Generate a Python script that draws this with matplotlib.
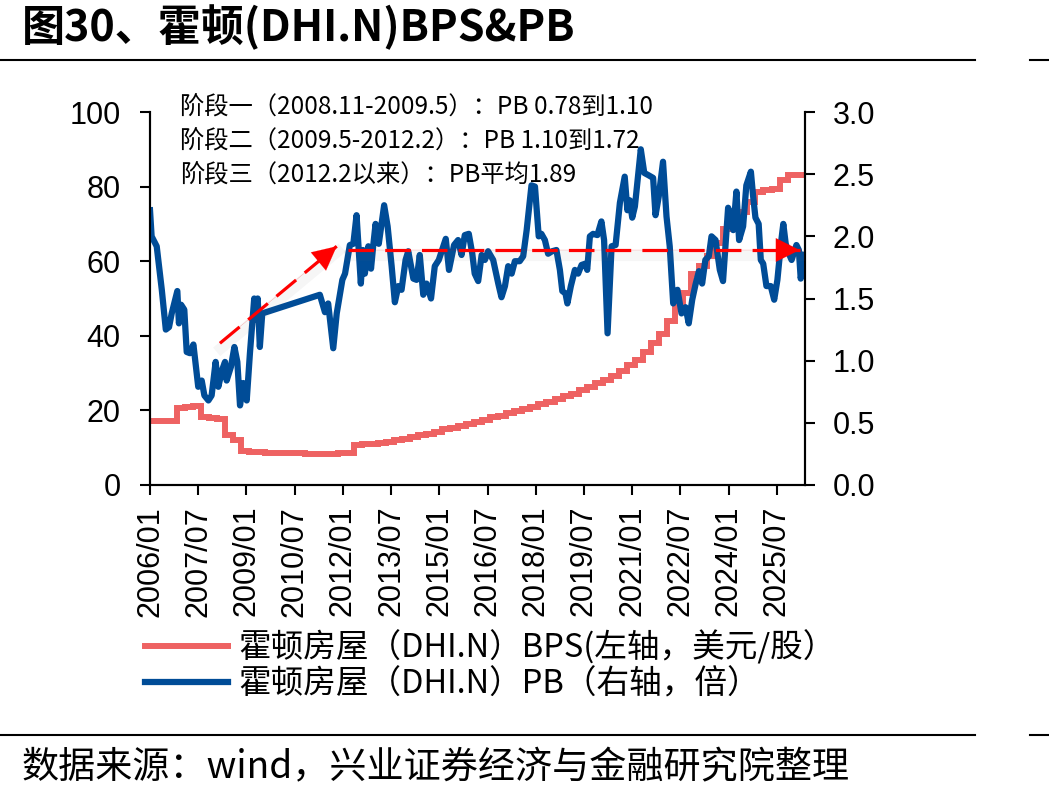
import numpy as np
import matplotlib.pyplot as plt
from matplotlib import transforms
from matplotlib.lines import Line2D

# ---- data (months counted from 2006/01) ----
# book value per share, updated quarterly (first value is 2005/11)
bps_start = -2
bps_values = [17.2, 17.2, 17.2, 17.2, 20.6, 20.9, 21.2, 18.2, 17.9, 17.8,
              13.4, 12.0, 9.2, 8.9, 8.8, 8.7, 8.6, 8.6, 8.5, 8.5,
              8.4, 8.4, 8.4, 8.4, 8.5, 8.6, 10.8, 11.0, 11.1, 11.2,
              11.6, 12.0, 12.4, 13.0, 13.3, 13.6, 14.2, 14.9, 15.4, 15.9,
              16.4, 17.0, 17.5, 18.1, 18.6, 19.2, 19.8, 20.4, 21.0, 21.6,
              22.3, 23.0, 23.8, 24.5, 25.4, 26.3, 27.3, 28.2, 29.3, 30.6,
              32.3, 33.6, 35.6, 38.0, 40.5, 44.0, 48.5, 51.6, 56.5, 58.8,
              61.5, 64.8, 68.5, 71.0, 73.2, 76.0, 78.6, 79.0, 79.3, 81.8,
              83.1, 83.1]
bps_end = 244.4

pb_month = [0.0, 0.6, 2.5, 4.4, 5.9, 7.1, 8.1, 10.2, 10.8, 11.6,
            12.8, 13.7, 14.9, 16.2, 18.0, 19.3, 20.3, 21.8, 23.0, 24.5,
            25.5, 27.0, 28.0, 28.6, 30.2, 31.5, 32.6, 33.6, 34.8, 36.1,
            37.3, 38.9, 39.6, 40.2, 41.0, 41.9, 63.4, 65.3, 66.5, 68.4,
            69.7, 71.8, 72.8, 74.6, 75.9, 77.1, 78.7, 79.5, 80.2, 81.5,
            82.5, 83.3, 84.2, 85.4, 87.4, 88.7, 90.2, 91.4, 92.7, 93.9,
            95.4, 96.4, 98.3, 99.5, 100.7, 102.0, 103.2, 104.9, 106.3, 107.8,
            110.4, 111.6, 113.5, 115.0, 116.3, 117.5, 119.0, 120.3, 121.2, 122.5,
            123.8, 125.0, 126.2, 128.1, 130.0, 131.2, 132.5, 133.7, 135.0, 136.2,
            138.0, 139.3, 140.6, 142.4, 143.7, 145.1, 146.1, 147.4, 148.6, 150.1,
            151.7, 153.0, 153.9, 155.1, 155.8, 157.1, 158.6, 159.8, 161.1, 162.5,
            163.2, 164.2, 165.4, 167.0, 168.5, 169.5, 170.8, 172.3, 173.8, 175.4,
            177.2, 178.2, 179.1, 180.0, 181.0, 183.2, 184.5, 186.2, 187.8, 188.7,
            189.9, 191.5, 192.8, 194.0, 195.3, 196.9, 198.4, 199.9, 201.1, 202.4,
            203.6, 204.9, 206.1, 207.3, 208.6, 209.6, 211.1, 212.7, 213.9, 215.2,
            215.8, 216.8, 217.7, 218.9, 219.9, 221.4, 222.6, 224.3, 225.1, 226.0,
            227.2, 228.0, 228.9, 230.1, 231.7, 233.0, 234.2, 235.5, 236.4, 237.3,
            238.5, 239.5, 241.3, 242.2, 242.9, 244.4]
pb_values = [2.21, 2.00, 1.92, 1.57, 1.25, 1.27, 1.38, 1.56, 1.30, 1.45,
             1.41, 1.07, 1.06, 1.13, 0.79, 0.84, 0.72, 0.68, 0.72, 0.99,
             0.79, 0.93, 0.99, 0.84, 0.95, 1.11, 0.99, 0.64, 0.82, 0.68,
             1.06, 1.50, 1.33, 1.50, 1.11, 1.38, 1.53, 1.39, 1.46, 1.10,
             1.38, 1.65, 1.70, 1.93, 1.94, 2.17, 1.62, 1.89, 1.70, 1.92,
             1.74, 1.92, 2.10, 1.94, 2.25, 2.08, 1.76, 1.47, 1.60, 1.57,
             1.81, 1.88, 1.66, 1.65, 1.85, 1.53, 1.62, 1.50, 1.76, 1.81,
             1.98, 1.73, 1.93, 1.97, 1.85, 2.01, 2.02, 1.86, 1.70, 1.64,
             1.85, 1.81, 1.88, 1.81, 1.62, 1.51, 1.60, 1.76, 1.70, 1.80,
             1.80, 1.84, 2.05, 2.41, 2.40, 2.00, 2.02, 1.97, 1.86, 1.88,
             1.89, 1.73, 1.56, 1.54, 1.46, 1.60, 1.73, 1.70, 1.77, 1.78,
             1.73, 2.00, 2.02, 2.01, 2.12, 1.97, 1.22, 1.92, 1.93, 2.27,
             2.48, 2.21, 2.29, 2.15, 2.24, 2.70, 2.51, 2.49, 2.47, 2.17,
             2.32, 2.60, 2.16, 1.92, 1.46, 1.57, 1.38, 1.43, 1.30, 1.49,
             1.61, 1.72, 1.62, 1.81, 1.84, 2.00, 1.97, 1.73, 1.64, 2.05,
             2.23, 2.16, 2.05, 2.36, 1.97, 2.08, 2.41, 2.52, 2.33, 2.15,
             2.10, 1.81, 1.78, 1.60, 1.60, 1.49, 1.65, 1.94, 2.10, 1.94,
             1.86, 1.81, 1.93, 1.89, 1.66, 1.85]

tick_labels = ['2006/01', '2007/07', '2009/01', '2010/07', '2012/01', '2013/07',
               '2015/01', '2016/07', '2018/01', '2019/07', '2021/01', '2022/07',
               '2024/01', '2025/07']

# arrows: (month, PB) start and tip
arrow_rise = ((26.1, 1.14), (69.7, 1.92))
arrow_flat = ((73.9, 1.89), (242.5, 1.89))

notes = ['阶段一（2008.11-2009.5）：PB 0.78到1.10',
         '阶段二（2009.5-2012.2）：PB 1.10到1.72',
         '阶段三（2012.2以来）：PB平均1.89']

label_bps = '霍顿房屋（DHI.N）BPS(左轴，美元/股）'
label_pb = '霍顿房屋（DHI.N）PB（右轴，倍）'

CJK = ['Noto Sans CJK SC', 'DejaVu Sans']
plt.rcParams['font.family'] = ['Liberation Sans', 'Noto Sans CJK SC']

red = '#EE6262'
blue = '#004C97'

fig = plt.figure(figsize=(10.49, 8), dpi=100)
ax = fig.add_axes([0.143, 0.39375, 0.6244, 0.46625])
ax2 = ax.twinx()

bps_x = bps_start + 3 * np.arange(len(bps_values))
l1, = ax.plot(np.append(bps_x, bps_end), np.append(bps_values, bps_values[-1]),
              color=red, lw=4.3, drawstyle='steps-post', solid_joinstyle='miter')
l2, = ax2.plot(pb_month, pb_values, color=blue, lw=4.5, solid_joinstyle='round')

ax.set_xlim(0, 244.5)
ax.set_ylim(0, 100)
ax2.set_ylim(0, 3)
ax.set_yticks(np.arange(0, 101, 20))
ax2.set_yticks(np.arange(0, 3.01, 0.5))
ax2.set_yticklabels(['%.1f' % v for v in np.arange(0, 3.01, 0.5)])
ax.set_xticks(18 * np.arange(len(tick_labels)))
ax.set_xticklabels(tick_labels, rotation=90)

for a in (ax, ax2):
    a.spines['top'].set_visible(False)
    for s in a.spines.values():
        s.set_linewidth(1.5)
    a.tick_params(direction='out', length=7, width=1.5, labelsize=22)
ax.tick_params(axis='y', pad=14)
ax2.tick_params(axis='y', pad=13)
ax.tick_params(axis='x', pad=8)


def dashed_arrow(a, start, end):
    shadow = transforms.offset_copy(a.transData, fig=fig, x=1, y=-5, units='dots')
    a.plot([start[0], end[0]], [start[1], end[1]], color='0.4', lw=8, alpha=0.06,
           transform=shadow, zorder=4)
    a.plot([start[0], end[0]], [start[1], end[1]], color='#FF0000', lw=2.3,
           dashes=(8, 3.5), zorder=5)
    a.annotate('', xy=end, xytext=start, zorder=6,
               arrowprops=dict(arrowstyle='-|>,head_length=17,head_width=8.5',
                               mutation_scale=1, color='#FF0000', lw=0.1,
                               shrinkA=0, shrinkB=0))


dashed_arrow(ax2, *arrow_rise)
dashed_arrow(ax2, *arrow_flat)

for i, note in enumerate(notes):
    fig.text(180 / 1049, 1 - (108 + 34 * i) / 800, note, family=CJK,
             fontsize=17.5, va='center', ha='left')

fig.text(22 / 1049, 1 - 27 / 800, '图30、霍顿(DHI.N)BPS&PB', family=CJK,
         fontsize=31, fontweight='bold', va='center', ha='left')
fig.text(22 / 1049, 1 - 768 / 800, '数据来源：wind，兴业证券经济与金融研究院整理',
         family=CJK, fontsize=26.7, va='center', ha='left')

for y in (1 - 60 / 800, 1 - 735 / 800):
    fig.add_artist(Line2D([0, 975 / 1049], [y, y], color='black', lw=1.5))
    fig.add_artist(Line2D([1030 / 1049, 1], [y, y], color='black', lw=1.5))

fig.legend([l1, l2], [label_bps, label_pb], loc='center left',
           bbox_to_anchor=(145 / 1049, 1 - 665 / 800), frameon=False,
           prop={'family': CJK, 'size': 23.5}, handlelength=2.55,
           handletextpad=0.3, labelspacing=0.12, borderpad=0, borderaxespad=0)

fig.savefig('out.png', dpi=100)
